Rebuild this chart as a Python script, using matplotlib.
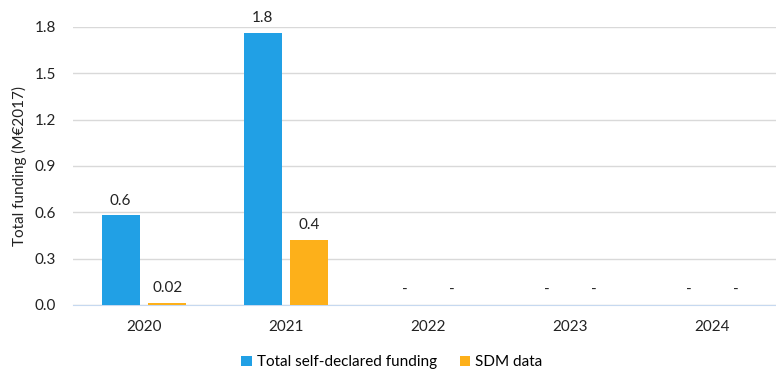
import numpy as np
import matplotlib.pyplot as plt

years = ['2020', '2021', '2022', '2023', '2024']
self_declared = [0.58, 1.76, 0, 0, 0]
sdm = [0.015, 0.42, 0, 0, 0]
self_labels = ['0.6', '1.8', '-', '-', '-']
sdm_labels = ['0.02', '0.4', '-', '-', '-']

plt.rcParams['font.family'] = ['Lato', 'DejaVu Sans']

fig = plt.figure(figsize=(7.76, 3.7), dpi=100)
ax = fig.add_axes([73 / 776, 65 / 370, 703 / 776, 278 / 370])

x = np.arange(len(years))
w = 0.268
off = 0.165
b1 = ax.bar(x - off, self_declared, w, color='#21A0E5', label='Total self-declared funding', zorder=3)
b2 = ax.bar(x + off, sdm, w, color='#FDB01A', label='SDM data', zorder=3)

for bars, labels in ((b1, self_labels), (b2, sdm_labels)):
    for rect, lab in zip(bars, labels):
        ax.text(rect.get_x() + rect.get_width() / 2, rect.get_height() + 0.05, lab,
                ha='center', va='bottom', fontsize=11, color='#222222')

ax.set_ylim(0, 1.8)
ax.set_xlim(-0.5, 4.45)
ax.set_yticks([0, 0.3, 0.6, 0.9, 1.2, 1.5, 1.8])
ax.set_yticklabels(['0.0', '0.3', '0.6', '0.9', '1.2', '1.5', '1.8'])
ax.set_xticks(x)
ax.set_xticklabels(years)
ax.tick_params(length=0, labelsize=11, colors='#222222')
ax.tick_params(axis='x', pad=11)
ax.tick_params(axis='y', pad=12)
ax.grid(axis='y', color='#D9D9D9', linewidth=1, zorder=0)
for s in ['top', 'right', 'left']:
    ax.spines[s].set_visible(False)
ax.spines['bottom'].set_color('#C6D9F0')
ax.set_ylabel('Total funding (M€2017)', fontsize=11, color='#222222', labelpad=6)

fig.legend(loc='lower center', bbox_to_anchor=(0.505, -0.035), ncol=2, frameon=False,
           fontsize=11, handlelength=0.7, handleheight=0.7, handletextpad=0.3, columnspacing=1.5)

fig.savefig('out.png', dpi=100)
